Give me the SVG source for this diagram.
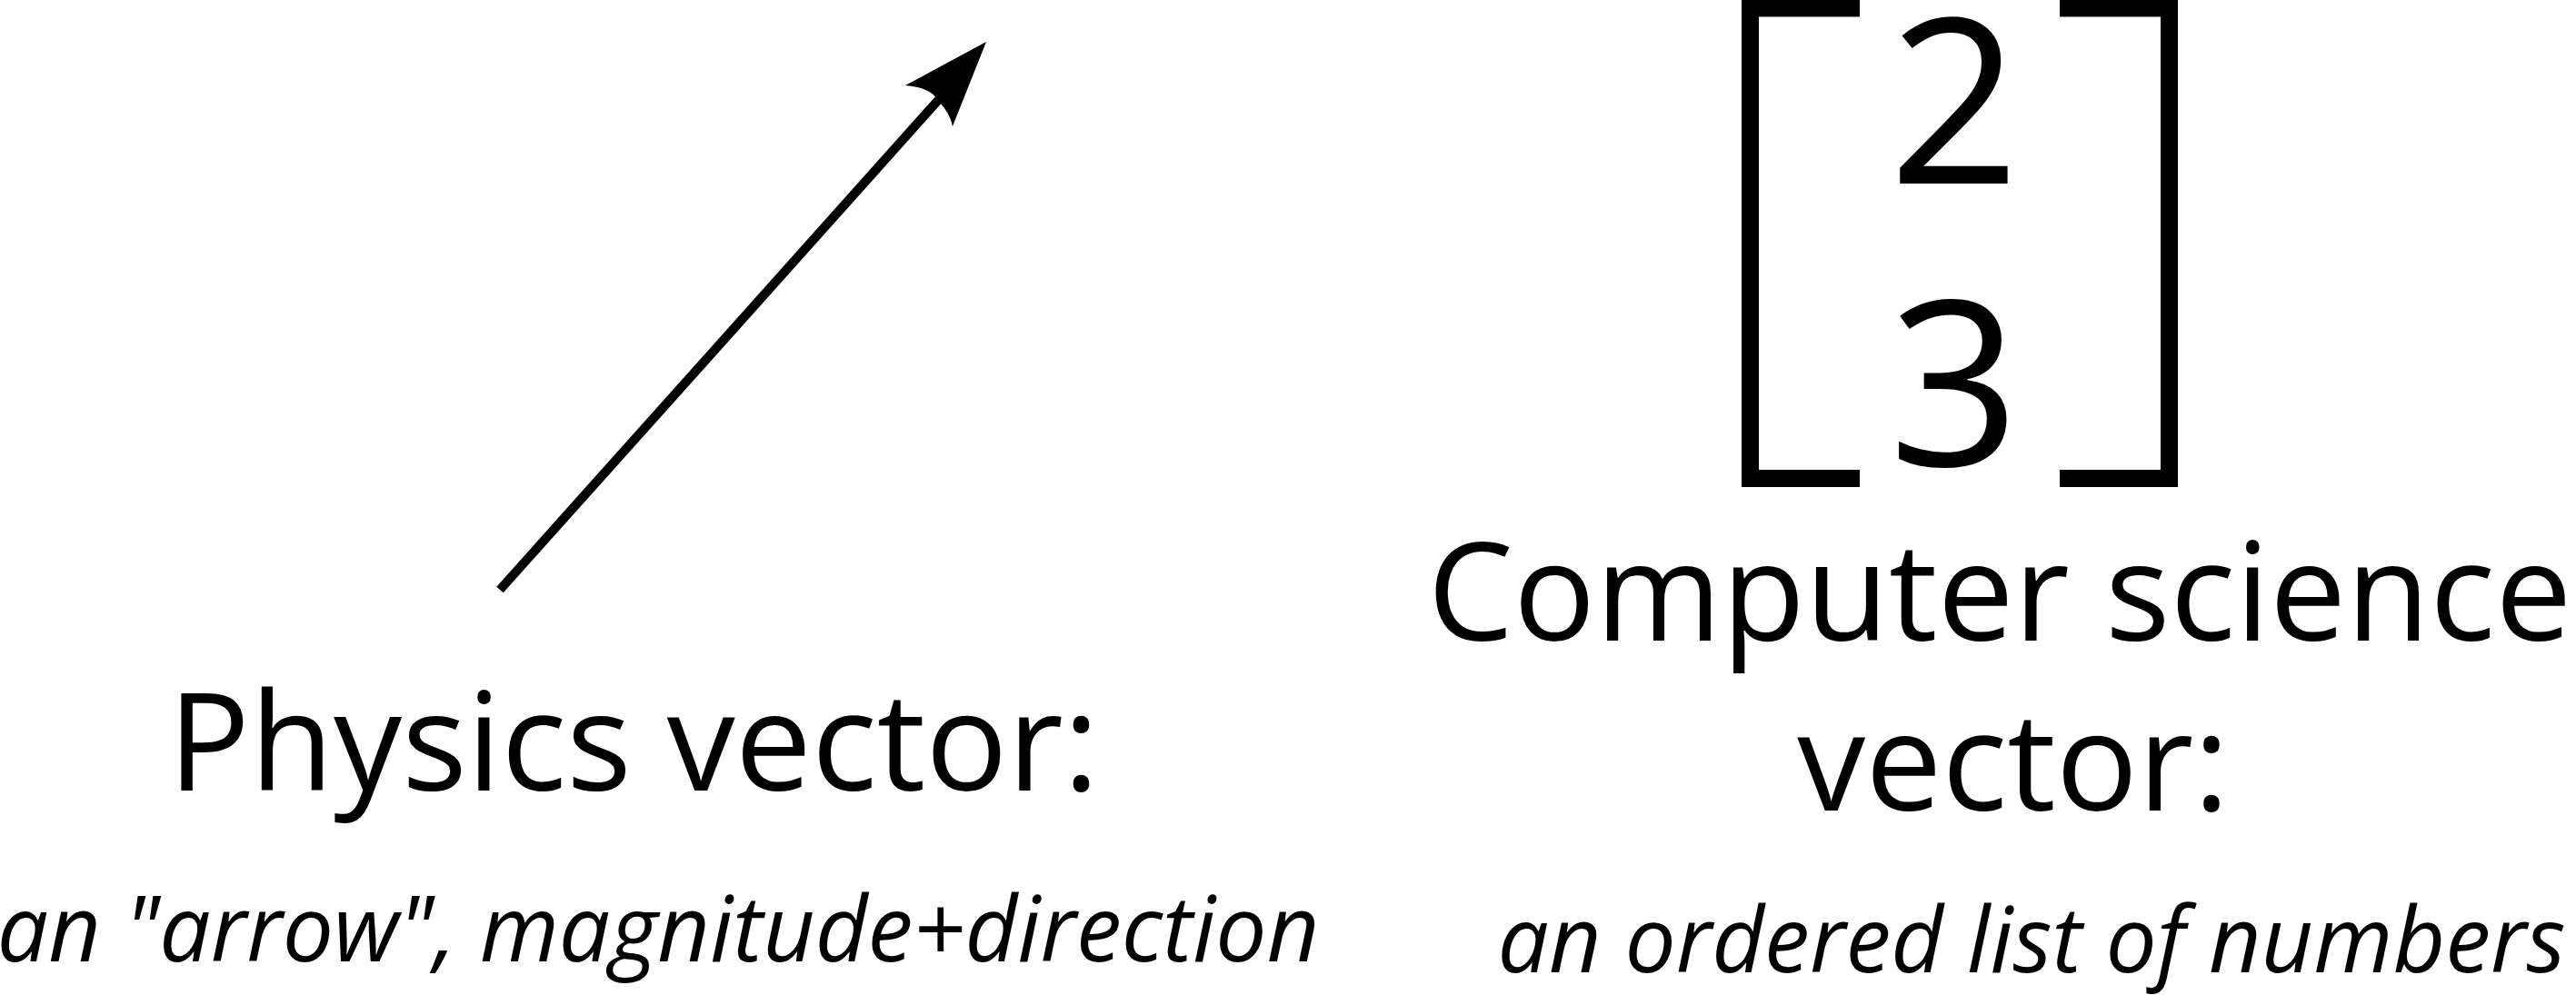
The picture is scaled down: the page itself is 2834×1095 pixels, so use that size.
<svg xmlns="http://www.w3.org/2000/svg" width="2834" height="1095" viewBox="0 0 2834 1095">
<style>
.t{font-family:"Open Sans","Noto Sans","DejaVu Sans",sans-serif;fill:#000;text-anchor:middle}
.big{font-size:150px}
.sub{font-size:100px;font-style:italic}
.dig{font-size:253px}
.br{fill:none;stroke:#000;stroke-width:19;stroke-linecap:butt;stroke-linejoin:miter}
</style>
<rect width="2834" height="1095" fill="#fff"/>
<g id="connectors">
<line x1="550" y1="649" x2="1036" y2="106" stroke="#000" stroke-width="10"/>
<path d="M1085,46 L996,94 Q1025,96 1033,112 Q1045,124 1048,139 Z" fill="#000"/>
</g>
<g id="physics-label">
<text class="t big" x="697" y="870">Physics vector:</text>
<text class="t sub" x="724" y="1058">an "arrow", magnitude+direction</text>
</g>
<g id="cs-vector">
<path class="br" d="M2046,9 H1925.5 V526.5 H2046"/>
<path class="br" d="M2266,9 H2386.5 V526.5 H2266"/>
<text class="t dig" x="2150" y="202">2</text>
<text class="t dig" x="2150" y="513">3</text>
</g>
<g id="cs-label">
<text class="t big" x="2200" y="705">Computer science</text>
<text class="t big" x="2215" y="892">vector:</text>
<text class="t sub" x="2235" y="1070">an ordered list of numbers</text>
</g>
</svg>
